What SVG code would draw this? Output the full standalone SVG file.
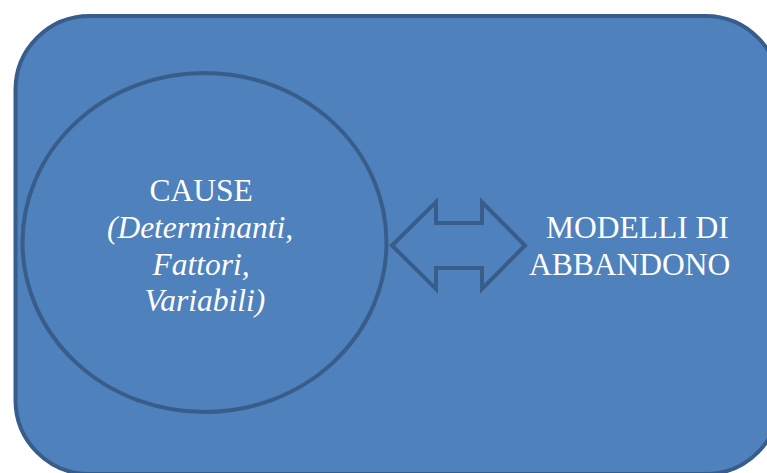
<svg xmlns="http://www.w3.org/2000/svg" width="767" height="473" viewBox="0 0 767 473">
  <style>
    .shape { fill: #4F81BD; stroke: #385D8A; stroke-width: 4; }
    .label { font-family: "Liberation Serif", "Times New Roman", serif; font-size: 31.5px; fill: #FFFFFF; }
    .it { font-style: italic; }
  </style>
  <rect width="767" height="473" fill="#FFFFFF"/>
  <!-- outer rounded panel -->
  <g id="panel">
    <rect class="shape" x="15.5" y="16" width="764" height="458" rx="74" ry="74"/>
  </g>
  <!-- causes ellipse -->
  <g id="cause">
    <ellipse class="shape" cx="204.5" cy="242.5" rx="182" ry="169.5"/>
    <text class="label" text-anchor="middle">
      <tspan x="205" y="201">CAUSE</tspan>
      <tspan class="it" x="204" y="238">(Determinanti,</tspan>
      <tspan class="it" x="205" y="275">Fattori,</tspan>
      <tspan class="it" x="205" y="311">Variabili)</tspan>
    </text>
  </g>
  <!-- connectors -->
  <g id="connectors">
    <polygon class="shape" stroke-linejoin="miter" points="392,245.5 436,202 436,223 482,223 482,202 525,245.5 482,289 482,268 436,268 436,289"/>
  </g>
  <!-- abandonment models -->
  <g id="modelli">
    <text class="label">
      <tspan x="546" y="238">MODELLI DI</tspan>
      <tspan x="529" y="275">ABBANDONO</tspan>
    </text>
  </g>
</svg>
